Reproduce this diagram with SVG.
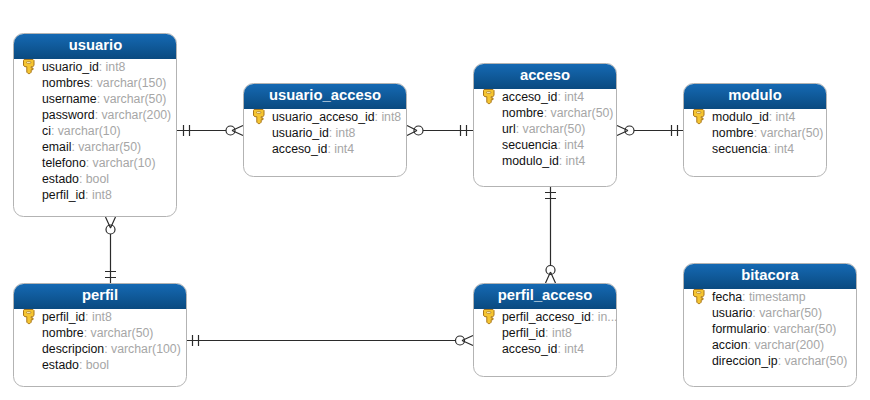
<svg xmlns="http://www.w3.org/2000/svg" xmlns:xlink="http://www.w3.org/1999/xlink" width="870" height="400" viewBox="0 0 870 400">
<style>
text{font-family:"Liberation Sans",Arial,sans-serif}
.box{fill:#fff;stroke:#b3b3b3;stroke-width:1}
.title{font-size:14.800px;font-weight:bold;fill:#fff;text-anchor:middle}
.row{font-size:12.300px;fill:#111}
.row tspan{fill:#a6a6a6}
.c{fill:none;stroke:#2b2b2b;stroke-width:1.200}
.hd{fill:url(#hg)}
</style>
<defs>
<linearGradient id="hg" x1="0" y1="0" x2="0" y2="1"><stop offset="0" stop-color="#1569b3"/><stop offset="1" stop-color="#0a4a80"/></linearGradient>
<g id="key"><path d="M1 0.500H10L11 1.500V6.500L9.800 7.700H8.200V9H10V10.700H8.200V13.200L6.800 14.600H5.200L3.800 13.200V7.700H2L0.500 6.500V1.500Z" fill="#f5c531" stroke="#a8751a" stroke-width="1"/><rect x="3.500" y="2.600" width="4.400" height="1.800" rx="0.900" fill="#fff6c4" stroke="#a8751a" stroke-width="0.700"/></g>
</defs>
<rect width="870" height="400" fill="#fff"/>
<g id="connectors" class="c">
<path d="M177 130.500H226M183.500 125V136M189.500 125V136M232 130.500L243 125.500M232 130.500L243 135.500"/><circle cx="230.500" cy="130.500" r="4.500"/>
<path d="M423 130.500H473M460.500 125V136M466.500 125V136M417 130.500L407 125.500M417 130.500L407 135.500"/><circle cx="418.500" cy="130.500" r="4.500"/>
<path d="M634 130.500H683M671.500 125V136M677.500 125V136M628 130.500L617 125.500M628 130.500L617 135.500"/><circle cx="629.500" cy="130.500" r="4.500"/>
<path d="M110.500 234V283M105 271.500H116M105 277.500H116M110.500 228L105.500 217M110.500 228L115.500 217"/><circle cx="110.500" cy="229.500" r="4.500"/>
<path d="M187 340.500H455M192.500 335V346M198.500 335V346M462 340.500L473 335.500M462 340.500L473 345.500"/><circle cx="460" cy="340.500" r="4.500"/>
<path d="M550.500 187V265M545 192.500H556M545 198.500H556M550.500 272L545.500 283M550.500 272L555.500 283"/><circle cx="550.500" cy="270" r="4.500"/>
</g>
<g id="usuario">
<rect class="box" x="13.500" y="33.500" width="163" height="183" rx="10"/>
<path class="hd" d="M14 59V43.500A9.500 9.500 0 0 1 23.500 34H166.500A9.500 9.500 0 0 1 176 43.500V59Z"/>
<text class="title" x="95.500" y="50">usuario</text>
<use xlink:href="#key" href="#key" x="23" y="59"/>
<text class="row" x="42" y="71">usuario_id<tspan>: int8</tspan></text>
<text class="row" x="42" y="87">nombres<tspan>: varchar(150)</tspan></text>
<text class="row" x="42" y="103">username<tspan>: varchar(50)</tspan></text>
<text class="row" x="42" y="119">password<tspan>: varchar(200)</tspan></text>
<text class="row" x="42" y="135">ci<tspan>: varchar(10)</tspan></text>
<text class="row" x="42" y="151">email<tspan>: varchar(50)</tspan></text>
<text class="row" x="42" y="167">telefono<tspan>: varchar(10)</tspan></text>
<text class="row" x="42" y="183">estado<tspan>: bool</tspan></text>
<text class="row" x="42" y="199">perfil_id<tspan>: int8</tspan></text>
</g>
<g id="usuario_acceso">
<rect class="box" x="243.500" y="83.500" width="163" height="93" rx="10"/>
<path class="hd" d="M244 109V93.500A9.500 9.500 0 0 1 253.500 84H396.500A9.500 9.500 0 0 1 406 93.500V109Z"/>
<text class="title" x="325" y="100">usuario_acceso</text>
<use xlink:href="#key" href="#key" x="253" y="109"/>
<text class="row" x="272" y="121">usuario_acceso_id<tspan>: int8</tspan></text>
<text class="row" x="272" y="137">usuario_id<tspan>: int8</tspan></text>
<text class="row" x="272" y="153">acceso_id<tspan>: int4</tspan></text>
</g>
<g id="acceso">
<rect class="box" x="473.500" y="63.500" width="143" height="123" rx="10"/>
<path class="hd" d="M474 89V73.500A9.500 9.500 0 0 1 483.500 64H606.500A9.500 9.500 0 0 1 616 73.500V89Z"/>
<text class="title" x="545" y="80">acceso</text>
<use xlink:href="#key" href="#key" x="483" y="89"/>
<text class="row" x="502" y="101">acceso_id<tspan>: int4</tspan></text>
<text class="row" x="502" y="117">nombre<tspan>: varchar(50)</tspan></text>
<text class="row" x="502" y="133">url<tspan>: varchar(50)</tspan></text>
<text class="row" x="502" y="149">secuencia<tspan>: int4</tspan></text>
<text class="row" x="502" y="165">modulo_id<tspan>: int4</tspan></text>
</g>
<g id="modulo">
<rect class="box" x="683.500" y="83.500" width="143" height="93" rx="10"/>
<path class="hd" d="M684 109V93.500A9.500 9.500 0 0 1 693.500 84H816.500A9.500 9.500 0 0 1 826 93.500V109Z"/>
<text class="title" x="755" y="100">modulo</text>
<use xlink:href="#key" href="#key" x="693" y="109"/>
<text class="row" x="712" y="121">modulo_id<tspan>: int4</tspan></text>
<text class="row" x="712" y="137">nombre<tspan>: varchar(50)</tspan></text>
<text class="row" x="712" y="153">secuencia<tspan>: int4</tspan></text>
</g>
<g id="perfil">
<rect class="box" x="13.500" y="283.500" width="173" height="103" rx="10"/>
<path class="hd" d="M14 309V293.500A9.500 9.500 0 0 1 23.500 284H176.500A9.500 9.500 0 0 1 186 293.500V309Z"/>
<text class="title" x="100" y="300">perfil</text>
<use xlink:href="#key" href="#key" x="23" y="309"/>
<text class="row" x="42" y="321">perfil_id<tspan>: int8</tspan></text>
<text class="row" x="42" y="337">nombre<tspan>: varchar(50)</tspan></text>
<text class="row" x="42" y="353">descripcion<tspan>: varchar(100)</tspan></text>
<text class="row" x="42" y="369">estado<tspan>: bool</tspan></text>
</g>
<g id="perfil_acceso">
<rect class="box" x="473.500" y="283.500" width="143" height="93" rx="10"/>
<path class="hd" d="M474 309V293.500A9.500 9.500 0 0 1 483.500 284H606.500A9.500 9.500 0 0 1 616 293.500V309Z"/>
<text class="title" x="545" y="300">perfil_acceso</text>
<use xlink:href="#key" href="#key" x="483" y="309"/>
<text class="row" x="502" y="321">perfil_acceso_id<tspan>: in...</tspan></text>
<text class="row" x="502" y="337">perfil_id<tspan>: int8</tspan></text>
<text class="row" x="502" y="353">acceso_id<tspan>: int4</tspan></text>
</g>
<g id="bitacora">
<rect class="box" x="683.500" y="263.500" width="173" height="123" rx="10"/>
<path class="hd" d="M684 289V273.500A9.500 9.500 0 0 1 693.500 264H846.500A9.500 9.500 0 0 1 856 273.500V289Z"/>
<text class="title" x="770" y="280">bitacora</text>
<use xlink:href="#key" href="#key" x="693" y="289"/>
<text class="row" x="712" y="301">fecha<tspan>: timestamp</tspan></text>
<text class="row" x="712" y="317">usuario<tspan>: varchar(50)</tspan></text>
<text class="row" x="712" y="333">formulario<tspan>: varchar(50)</tspan></text>
<text class="row" x="712" y="349">accion<tspan>: varchar(200)</tspan></text>
<text class="row" x="712" y="365">direccion_ip<tspan>: varchar(50)</tspan></text>
</g>
</svg>
